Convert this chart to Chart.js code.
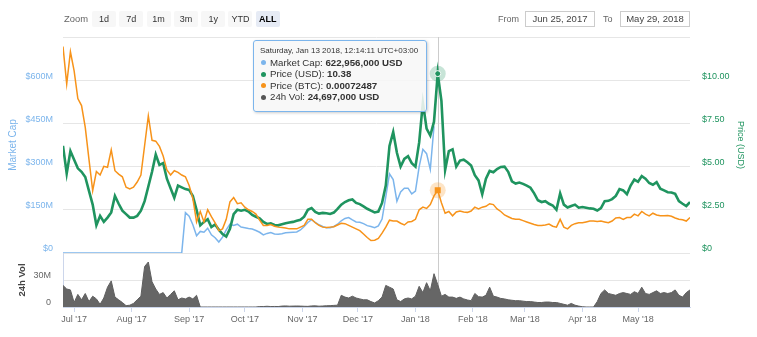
<!DOCTYPE html>
<html>
<head>
<meta charset="utf-8">
<script src="https://cdn.jsdelivr.net/npm/chart.js@4.4.1/dist/chart.umd.min.js"></script>
<style>
  body { margin: 0; background: #fff; font-family: 'Liberation Sans', Arial, sans-serif; }
  #wrap { position: relative; width: 757px; height: 337px; overflow: hidden; }
  #chart { position: absolute; left: 0; top: 0; }
  .zoomLabel { position: absolute; left: 64px; top: 13px; font-size: 9.4px; color: #666; }
  .btns { position: absolute; left: 92px; top: 11px; display: flex; gap: 3.3px; }
  .btns span { width: 24px; height: 16px; line-height: 16px; text-align: center; font-size: 9px; color: #333; background: #f7f7f7; border-radius: 2px; }
  .btns span.on { background: #e6ebf5; font-weight: bold; color: #000; }
  .lbl { position: absolute; top: 14px; font-size: 9px; color: #666; }
  .date { position: absolute; top: 11px; width: 68px; height: 14px; border: 1px solid #ccc; font-size: 9.5px; color: #444; text-align: center; line-height: 14px; }
  #tip { position: absolute; left: 253px; top: 40px; width: 172px; height: 65px; background: rgba(247,247,247,0.88);
         border: 1px solid #7cb5ec; border-radius: 3px; box-shadow: 1px 1px 3px rgba(0,0,0,0.2); color: #333; padding-top: 5px; box-sizing: content-box; }
  #tip .hd { font-size: 8px; line-height: 10.5px; padding-left: 6px; white-space: nowrap; }
  #tip .row { font-size: 9.7px; line-height: 11.5px; padding-left: 16px; position: relative; white-space: nowrap; }
  #tip .row i { position: absolute; left: 7px; top: 3.5px; width: 5px; height: 5px; border-radius: 50%; }
</style>
</head>
<body>
<div id="wrap">
  <canvas id="chart" width="757" height="337"></canvas>
  <div class="zoomLabel">Zoom</div>
  <div class="btns"><span>1d</span><span>7d</span><span>1m</span><span>3m</span><span>1y</span><span>YTD</span><span class="on">ALL</span></div>
  <div class="lbl" style="left:498px">From</div>
  <div class="date" style="left:525px">Jun 25, 2017</div>
  <div class="lbl" style="left:603px">To</div>
  <div class="date" style="left:620px">May 29, 2018</div>
  <div id="tip">
    <div class="hd">Saturday, Jan 13 2018, 12:14:11 UTC+03:00</div>
    <div class="row"><i style="background:#7cb5ec"></i>Market Cap: <b>622,956,000 USD</b></div>
    <div class="row"><i style="background:#1f945f"></i>Price (USD): <b>10.38</b></div>
    <div class="row"><i style="background:#f7931a"></i>Price (BTC): <b>0.00072487</b></div>
    <div class="row"><i style="background:#555"></i>24h Vol: <b>24,697,000 USD</b></div>
  </div>
</div>
<script>
// one sample every 2 days, starting Jun 25, 2017
var startDate = '2017-06-25';
var stepDays = 2;

// market cap in millions USD (no data after mid-January)
var marketCapM = [
  0, 0, 0, 0, 0, 0, 0, 0, 0, 0,
  0, 0, 0, 0, 0, 0, 0, 0, 0, 0,
  0, 0, 0, 0, 0, 0, 0, 0, 0, 0,
  0, 0, 0, 140, 128, 98, 60, 75, 72, 86,
  63, 53, 38, 55, 80, 100, 96, 100, 90, 88,
  85, 83, 78, 72, 63, 68, 71, 66, 65, 67,
  70, 71, 72, 73, 80, 92, 106, 116, 106, 98,
  92, 88, 88, 92, 100, 112, 120, 123, 115, 108,
  107, 102, 95, 92, 88, 94, 118, 195, 275, 255,
  180, 212, 225, 225, 205, 215, 300, 360, 345, 290,
  440, null, null, null, null, null, null, null, null, null,
  null, null, null, null, null, null, null, null, null, null,
  null, null, null, null, null, null, null, null, null, null,
  null, null, null, null, null, null, null, null, null, null,
  null, null, null, null, null, null, null, null, null, null,
  null, null, null, null, null, null, null, null, null, null,
  null, null, null, null, null, null, null, null, null, null
];

var priceUsd = [
  6.2, 4.6, 5.9, 5.4, 4.9, 4.7, 4.4, 3.6, 2.8, 1.6,
  2.15, 1.8, 2.05, 2.35, 3.3, 2.85, 2.45, 2.25, 2.05, 2.05,
  2.15, 2.45, 3.0, 3.85, 4.7, 5.7, 5.1, 5.2, 4.3, 3.75,
  3.2, 3.9, 3.8, 3.7, 3.65, 3.3, 2.5, 1.6, 1.8, 1.95,
  1.5, 1.65, 1.35, 1.1, 0.95, 1.4, 2.25, 2.5, 2.45, 2.5,
  2.4, 2.2, 2.1, 2.0, 1.8, 1.68, 1.72, 1.62, 1.6, 1.66,
  1.72, 1.76, 1.8, 1.86, 1.92, 2.1, 2.5, 2.6, 2.38, 2.28,
  2.32, 2.3, 2.26, 2.34, 2.55, 2.8, 2.95, 3.05, 3.1, 2.9,
  2.83, 2.7, 2.56, 2.45, 2.35, 2.4, 2.9, 3.9, 6.2, 7.0,
  5.8, 5.0, 5.45, 5.6, 5.2, 5.0, 6.4, 8.7, 7.2, 6.8,
  7.6, 10.38, 8.8, 4.8, 5.9, 6.0, 5.0, 5.35, 5.4, 5.25,
  5.06, 4.5, 4.2, 3.4, 4.3, 4.75, 4.67, 4.86, 4.98, 5.0,
  4.7, 4.15, 4.02, 4.08, 4.0, 3.9, 3.78, 3.45, 3.05, 2.95,
  3.0, 2.85, 2.75, 2.5, 3.45, 2.8, 2.63, 2.72, 2.8, 2.62,
  2.66, 2.62, 2.58, 2.56, 2.46, 2.6, 3.0, 3.02, 3.12, 3.3,
  3.7, 3.62, 3.4, 3.9, 4.25, 4.12, 4.45, 4.3, 4.05, 3.95,
  4.1, 3.72, 3.62, 3.52, 3.5, 3.42, 3.0, 2.85, 2.72, 2.95
];

var priceBtc = [
  0.00238, 0.00195, 0.00232, 0.00210, 0.00178, 0.00170, 0.00145, 0.00108, 0.00072, 0.00094,
  0.00090, 0.00100, 0.00099, 0.00119, 0.00095, 0.00091, 0.00088, 0.00076, 0.00074, 0.00076,
  0.00082, 0.00090, 0.00124, 0.00158, 0.00130, 0.00129, 0.00123, 0.00112, 0.00096, 0.00090,
  0.00095, 0.00093, 0.00090, 0.00088, 0.00078, 0.00063, 0.00036, 0.00048, 0.00036, 0.00050,
  0.00042, 0.00035, 0.00026, 0.00028, 0.00039, 0.00059, 0.00064, 0.00057, 0.00058, 0.00053,
  0.00050, 0.00048, 0.00045, 0.00038, 0.00032, 0.00032, 0.00033, 0.00031, 0.00030, 0.000295,
  0.00029, 0.00028, 0.00028, 0.00028, 0.00030, 0.00032, 0.00039, 0.00039, 0.00035, 0.00032,
  0.00030, 0.000295, 0.00030, 0.000305, 0.000325, 0.000345, 0.00034, 0.00032, 0.00030, 0.00028,
  0.00026, 0.00022, 0.00018, 0.000145, 0.00015, 0.00017, 0.00023, 0.00030, 0.00038, 0.00037,
  0.00037, 0.000345, 0.000325, 0.00036, 0.000365, 0.00039, 0.00050, 0.00053, 0.000515, 0.00056,
  0.00066, 0.00072487, 0.00058, 0.00046, 0.00048, 0.00043, 0.000475, 0.000485, 0.000475, 0.00047,
  0.000485, 0.00053, 0.00051, 0.00053, 0.00054, 0.00057, 0.00056, 0.00051, 0.00048, 0.00044,
  0.00042, 0.00040, 0.00039, 0.00039, 0.000375, 0.00036, 0.000345, 0.00033, 0.00032, 0.00032,
  0.000325, 0.000335, 0.00031, 0.00030, 0.00039, 0.00030, 0.00028, 0.00032, 0.00034, 0.00035,
  0.00035, 0.00036, 0.00037, 0.00037, 0.000365, 0.00037, 0.00036, 0.00035, 0.00037, 0.000405,
  0.00041, 0.00039, 0.00041, 0.00041, 0.00045, 0.00043, 0.00048, 0.00045, 0.00043, 0.00046,
  0.00044, 0.00043, 0.00043, 0.000435, 0.000425, 0.000405, 0.00039, 0.000385, 0.00037, 0.00041
];

// 24h volume in millions USD
var volumeM = [
  24, 20, 19, 5, 14, 8, 15, 6, 12, 9,
  3, 10, 22, 29, 11, 8, 5, 1.5, 2, 4,
  8, 12, 45, 50, 28, 20, 14, 16, 10, 14,
  18, 8, 10, 9, 11, 9, 13, 0, 0, 0,
  0, 0, 0, 0, 0, 0, 0, 0, 0, 0,
  0, 0, 0, 0.5, 0.5, 0.8, 0.5, 0.6, 0.5, 1,
  1.2, 0.9, 1, 1.1, 1, 0.8, 0.7, 1.2, 1.3, 0.9,
  1.1, 1.4, 1.5, 1.8, 2, 13, 11, 10, 12, 10,
  9, 8, 8, 6, 4.5, 7, 11, 24, 22, 20,
  8, 6, 9, 10, 9, 12, 23, 16, 27, 18,
  37, 25, 12, 14, 11, 11, 9.6, 11, 9, 7.8,
  7, 15, 11.5, 11, 13, 22, 12, 11, 9.5, 9,
  8, 7.5, 7, 7, 6.5, 6, 6, 5.5, 5, 5,
  5.5, 5.5, 5, 5, 4, 3, 2, 4, 2, 1,
  0.3, 0, 0, 0, 6, 15, 19, 15, 14, 13,
  15, 16, 15, 14, 17, 15, 22, 15, 14, 16,
  18, 15, 16, 15, 16, 19, 13, 11, 16, 19
];

var monthTickDates = ['2017-07-01', '2017-08-01', '2017-09-01', '2017-10-01', '2017-11-01', '2017-12-01',
                      '2018-01-01', '2018-02-01', '2018-03-01', '2018-04-01', '2018-05-01'];
var monthTickLabels = ["Jul '17", "Aug '17", "Sep '17", "Oct '17", "Nov '17", "Dec '17",
                       "Jan '18", "Feb '18", "Mar '18", "Apr '18", "May '18"];
var endDate = '2018-05-29';
var hoverIndex = 101; // Jan 13 2018

var green = '#1f945f';
var orange = '#f7931a';
var blue = '#7cb5ec';

function daysFromStart(d) {
    return (Date.parse(d) - Date.parse(startDate)) / 86400000;
}
function points(arr) {
    return arr.map(function(v, i) { return { x: i * stepDays, y: v }; });
}
var tickDays = monthTickDates.map(daysFromStart);

Chart.defaults.font.family = "'Liberation Sans', Arial, sans-serif";
Chart.defaults.font.size = 9;

var hoverMarks = {
    id: 'hoverMarks',
    beforeDatasetsDraw: function(chart) {
        var ctx = chart.ctx, area = chart.chartArea;
        var x = Math.round(chart.scales.x.getPixelForValue(hoverIndex * stepDays)) + 0.5;
        ctx.save();
        ctx.strokeStyle = '#cccccc';
        ctx.lineWidth = 1;
        ctx.beginPath();
        ctx.moveTo(x, area.top);
        ctx.lineTo(x, area.bottom);
        ctx.stroke();
        ctx.restore();
    },
    afterDatasetsDraw: function(chart) {
        var ctx = chart.ctx;
        var x = chart.scales.x.getPixelForValue(hoverIndex * stepDays);
        var yG = chart.scales.yPrice.getPixelForValue(priceUsd[hoverIndex]);
        var yO = chart.scales.yBtc.getPixelForValue(priceBtc[hoverIndex]);
        ctx.save();
        ctx.fillStyle = 'rgba(31,148,95,0.25)';
        ctx.beginPath(); ctx.arc(x, yG, 8, 0, Math.PI * 2); ctx.fill();
        ctx.fillStyle = 'rgba(247,147,26,0.25)';
        ctx.beginPath(); ctx.arc(x, yO, 8, 0, Math.PI * 2); ctx.fill();
        ctx.fillStyle = green;
        ctx.strokeStyle = '#fff';
        ctx.beginPath(); ctx.arc(x, yG, 3, 0, Math.PI * 2); ctx.fill(); ctx.stroke();
        ctx.fillStyle = orange;
        ctx.fillRect(x - 3, yO - 3, 6, 6);
        ctx.restore();
    }
};

var ctx = document.getElementById('chart').getContext('2d');
var myChart = new Chart(ctx, {
    type: 'line',
    data: {
        datasets: [{
            label: 'Price (BTC)',
            data: points(priceBtc),
            yAxisID: 'yBtc',
            borderColor: orange,
            borderWidth: 1.5,
            pointRadius: 0,
            order: 0
        }, {
            label: 'Price (USD)',
            data: points(priceUsd),
            yAxisID: 'yPrice',
            borderColor: green,
            borderWidth: 2.6,
            pointRadius: 0,
            order: 1
        }, {
            label: 'Market Cap',
            data: points(marketCapM),
            yAxisID: 'yCap',
            borderColor: blue,
            borderWidth: 1.5,
            pointRadius: 0,
            spanGaps: false,
            order: 2
        }, {
            label: '24h Vol',
            data: points(volumeM),
            yAxisID: 'yVol',
            borderColor: '#5f5f5f',
            backgroundColor: '#666666',
            borderWidth: 1,
            pointRadius: 0,
            fill: 'origin',
            order: 3
        }]
    },
    options: {
        responsive: false,
        animation: false,
        events: [],
        layout: { padding: { top: 37, left: 0, right: 0, bottom: 0 } },
        plugins: { legend: { display: false }, tooltip: { enabled: false } },
        scales: {
            x: {
                type: 'linear',
                min: 0,
                max: daysFromStart(endDate),
                afterBuildTicks: function(s) { s.ticks = tickDays.map(function(d) { return { value: d }; }); },
                afterFit: function(s) { s.height = 30; },
                ticks: {
                    autoSkip: false, maxRotation: 0, color: '#666', padding: 2,
                    callback: function(v) { var i = tickDays.indexOf(v); return i >= 0 ? monthTickLabels[i] : ''; }
                },
                grid: { drawOnChartArea: false, color: '#ccd6eb', tickLength: 5 },
                border: { color: '#ccd6eb' }
            },
            yVol: {
                position: 'left', stack: 'L', stackWeight: 1,
                min: 0, max: 60,
                afterFit: function(s) { s.width = 63; },
                ticks: {
                    stepSize: 30, color: '#666', padding: 12, labelOffset: -4,
                    callback: function(v) { return v === 60 ? '' : (v === 0 ? '0' : v + 'M'); }
                },
                grid: { color: '#e6e6e6', drawTicks: false },
                border: { display: true, color: '#ccd6eb' },
                title: { display: true, text: '24h Vol', color: '#444', font: { size: 9.5, weight: 'bold' }, padding: { top: 17 } }
            },
            yCap: {
                position: 'left', stack: 'L', stackWeight: 4,
                min: 0, max: 750,
                afterFit: function(s) { s.width = 63; },
                ticks: {
                    stepSize: 150, color: blue, padding: 10, labelOffset: -4,
                    callback: function(v) { return v === 750 ? '' : (v === 0 ? '$0' : '$' + v + 'M'); }
                },
                grid: { color: '#e6e6e6', drawTicks: false },
                border: { display: false },
                title: { display: true, text: 'Market Cap', color: blue, font: { size: 10 }, padding: { top: 7 } }
            },
            yPrice: {
                position: 'right', stack: 'R', stackWeight: 4,
                min: 0, max: 12.5,
                afterFit: function(s) { s.width = 67; },
                ticks: {
                    stepSize: 2.5, color: green, padding: 12, labelOffset: -4,
                    callback: function(v) { return v === 12.5 ? '' : (v === 0 ? '$0' : '$' + v.toFixed(2)); }
                },
                grid: { display: false, drawTicks: false },
                border: { display: false },
                title: { display: true, text: 'Price (USD)', color: green, font: { size: 9 }, padding: { top: 11 } }
            },
            yPad: {
                position: 'right', stack: 'R', stackWeight: 1,
                display: false
            },
            yBtc: {
                position: 'right', display: false,
                min: -0.00062, max: 0.00249
            }
        }
    },
    plugins: [hoverMarks]
});
</script>
</body>
</html>
